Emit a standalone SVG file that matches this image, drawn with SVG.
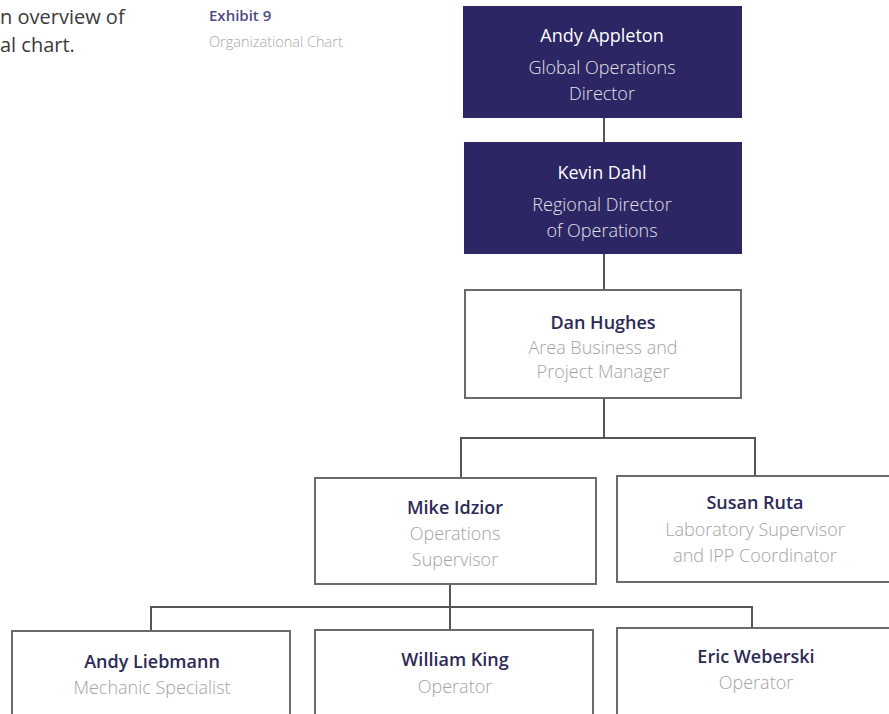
<svg xmlns="http://www.w3.org/2000/svg" width="889" height="714" viewBox="0 0 889 714">
<style>
.dark{fill:#2c2664;stroke:#2c2664;stroke-width:2}
.light{fill:#fff;stroke:#6a6a6a;stroke-width:2}
.nm{font-family:"Open Sans","Liberation Sans",sans-serif;font-size:18px;text-anchor:middle}
.tt{font-family:"Open Sans","Liberation Sans",sans-serif;font-weight:300;font-size:18px;text-anchor:middle}
.dn{fill:#ffffff}
.dt{fill:#e2e1e8}
.ln{fill:#2d2a55;font-weight:600}
.lt{fill:#a3a3a3}
.conn{stroke:#555;stroke-width:2;fill:none}
</style>
<rect width="889" height="714" fill="#fff"/>
<text x="0" y="24" font-family="'Open Sans','Liberation Sans',sans-serif" font-size="20" fill="#3a3a3a">n overview of</text>
<text x="0" y="52" font-family="'Open Sans','Liberation Sans',sans-serif" font-size="20" fill="#3a3a3a">al chart.</text>
<text x="209" y="21" font-family="'Open Sans','Liberation Sans',sans-serif" font-size="15" font-weight="600" fill="#4c4b82">Exhibit 9</text>
<text x="209" y="47" font-family="'Open Sans','Liberation Sans',sans-serif" font-size="14.5" font-weight="300" fill="#a8a8a8">Organizational Chart</text>
<g id="connectors">
<path class="conn" d="M604 117V143M604 253V289M604 398V438M461 438H755M461 437V478M755 437V476M450 584V607M151 607H752M151 606V631M450 606V630M752 606V628"/>
</g>
<g id="appleton">
<rect class="dark" x="464" y="7" width="277" height="110"/>
<text class="nm dn" x="602" y="42">Andy Appleton</text>
<text class="tt dt" x="602" y="74">Global Operations</text>
<text class="tt dt" x="602" y="100">Director</text>
</g>
<g id="dahl">
<rect class="dark" x="465" y="143" width="276" height="110"/>
<text class="nm dn" x="602" y="179">Kevin Dahl</text>
<text class="tt dt" x="602" y="211">Regional Director</text>
<text class="tt dt" x="602" y="237">of Operations</text>
</g>
<g id="hughes">
<rect class="light" x="465" y="290" width="276" height="108"/>
<text class="nm ln" x="603" y="329">Dan Hughes</text>
<text class="tt lt" x="603" y="354">Area Business and</text>
<text class="tt lt" x="603" y="378">Project Manager</text>
</g>
<g id="idzior">
<rect class="light" x="315" y="478" width="281" height="106"/>
<text class="nm ln" x="455" y="514">Mike Idzior</text>
<text class="tt lt" x="455" y="540">Operations</text>
<text class="tt lt" x="455" y="566">Supervisor</text>
</g>
<g id="ruta">
<rect class="light" x="617" y="476" width="280" height="106"/>
<text class="nm ln" x="755" y="509">Susan Ruta</text>
<text class="tt lt" x="755" y="536">Laboratory Supervisor</text>
<text class="tt lt" x="755" y="562">and IPP Coordinator</text>
</g>
<g id="liebmann">
<rect class="light" x="12" y="631" width="278" height="100"/>
<text class="nm ln" x="152" y="668">Andy Liebmann</text>
<text class="tt lt" x="152" y="694">Mechanic Specialist</text>
</g>
<g id="king">
<rect class="light" x="315" y="630" width="278" height="100"/>
<text class="nm ln" x="455" y="666">William King</text>
<text class="tt lt" x="455" y="693">Operator</text>
</g>
<g id="weberski">
<rect class="light" x="617" y="628" width="280" height="100"/>
<text class="nm ln" x="756" y="663">Eric Weberski</text>
<text class="tt lt" x="756" y="689">Operator</text>
</g>
</svg>
